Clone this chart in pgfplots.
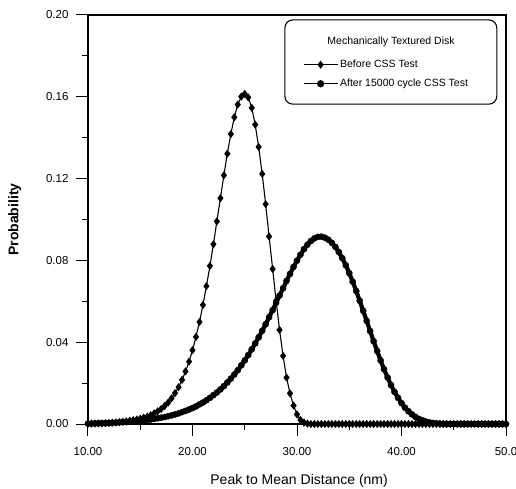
\documentclass[border=0pt]{standalone}
\usepackage{fontspec}
\setmainfont{Liberation Sans}
\usepackage{pgfplots}
\pgfplotsset{compat=1.18}
\begin{document}
\begin{tikzpicture}
\begin{axis}[name=ax, scale only axis, width=418pt, height=409pt,
  xmin=10, xmax=50, ymin=0, ymax=0.2,
  xtick={10,20,30,40,50}, xticklabels={10.00,20.00,30.00,40.00,50.0},
  ytick={0,0.04,0.08,0.12,0.16,0.20}, yticklabels={0.00,0.04,0.08,0.12,0.16,0.20},
  minor xtick={15,25,35,45}, minor ytick={0.02,0.06,0.10,0.14,0.18},
  tick align=outside, xtick pos=bottom, ytick pos=left,
  major tick length=12pt, minor tick length=6pt,
  tick style={line width=1pt, black}, axis line style={line width=1.1pt},
  ticklabel style={font=\fontsize{11.5}{13}\selectfont},
  xticklabel style={yshift=-8pt},
  yticklabel style={xshift=-4pt},
  /pgf/number format/assume math mode=true,
  xlabel={Peak to Mean Distance (nm)}, ylabel={\textbf{Probability}},
  xlabel style={at={(rel axis cs:0.505,-0.14)}, anchor=center, font=\fontsize{14}{16}\selectfont},
  ylabel style={at={(rel axis cs:-0.175,0.5)}, anchor=center, font=\fontsize{14}{16}\selectfont},
  clip=false,
  legend style={at={(rel axis cs:0.514,0.895)}, anchor=north west, draw=none, fill=none,
    font=\fontsize{10.5}{12}\selectfont, row sep=6pt, inner sep=0pt},
  legend cell align=left,
  /tikz/every even column/.append style={column sep=8pt},
  legend image code/.code={\draw[mark repeat=2,mark phase=2,#1] plot coordinates {(0pt,0pt) (17pt,0pt) (34pt,0pt)};},
]
\addplot[black, line width=1.1pt, mark=diamond*, mark size=3.2pt, mark options={solid}] coordinates {
(10.00,0.0001) (10.33,0.0002) (10.67,0.0002) (11.00,0.0003) (11.33,0.0003) (11.67,0.0004) (12.00,0.0005) (12.33,0.0006) (12.67,0.0007) (13.00,0.0009) (13.33,0.0011) (13.67,0.0013) (14.00,0.0016) (14.33,0.0019) (14.67,0.0022) (15.00,0.0026) (15.33,0.0031) (15.67,0.0036) (16.00,0.0043) (16.33,0.0052) (16.67,0.0062) (17.00,0.0073) (17.33,0.0088) (17.67,0.0105) (18.00,0.0126) (18.33,0.0151) (18.67,0.0180) (19.00,0.0216) (19.33,0.0257) (19.67,0.0305) (20.00,0.0361) (20.33,0.0426) (20.67,0.0499) (21.00,0.0582) (21.33,0.0674) (21.67,0.0773) (22.00,0.0879) (22.33,0.0991) (22.67,0.1104) (23.00,0.1216) (23.33,0.1322) (23.67,0.1418) (24.00,0.1500) (24.33,0.1562) (24.67,0.1601) (25.00,0.1614) (25.33,0.1597) (25.67,0.1546) (26.00,0.1464) (26.33,0.1355) (26.67,0.1223) (27.00,0.1075) (27.33,0.0917) (27.67,0.0758) (28.00,0.0603) (28.33,0.0460) (28.67,0.0333) (29.00,0.0227) (29.33,0.0150) (29.67,0.0090) (30.00,0.0047) (30.33,0.0020) (30.67,0.0007) (31.00,0.0002)
(31.33,0) (31.67,0) (32.00,0) (32.33,0) (32.67,0) (33.00,0) (33.33,0) (33.67,0) (34.00,0) (34.33,0) (34.67,0) (35.00,0) (35.33,0) (35.67,0) (36.00,0) (36.33,0) (36.67,0) (37.00,0) (37.33,0) (37.67,0) (38.00,0) (38.33,0) (38.67,0) (39.00,0) (39.33,0) (39.67,0) (40.00,0) (40.33,0) (40.67,0) (41.00,0) (41.33,0) (41.67,0) (42.00,0) (42.33,0) (42.67,0) (43.00,0) (43.33,0) (43.67,0) (44.00,0) (44.33,0) (44.67,0) (45.00,0) (45.33,0) (45.67,0) (46.00,0) (46.33,0) (46.67,0) (47.00,0) (47.33,0) (47.67,0) (48.00,0) (48.33,0) (48.67,0) (49.00,0) (49.33,0) (49.67,0) (50.00,0)
};
\addlegendentry{Before CSS Test}
\addplot[black, line width=4.2pt, mark=*, mark size=3.1pt, mark options={solid, line width=0.4pt},
  legend image post style={line width=1.1pt, mark size=3.4pt}] coordinates {
(10.00,0.0002) (10.33,0.0002) (10.67,0.0003) (11.00,0.0003) (11.33,0.0004) (11.67,0.0004) (12.00,0.0005) (12.33,0.0006) (12.67,0.0007) (13.00,0.0008) (13.33,0.0009) (13.67,0.0010) (14.00,0.0011) (14.33,0.0013) (14.67,0.0014) (15.00,0.0016) (15.33,0.0018) (15.67,0.0020) (16.00,0.0022) (16.33,0.0025) (16.67,0.0028) (17.00,0.0031) (17.33,0.0034) (17.67,0.0038) (18.00,0.0042) (18.33,0.0047) (18.67,0.0052) (19.00,0.0058) (19.33,0.0064) (19.67,0.0071) (20.00,0.0078) (20.33,0.0086) (20.67,0.0096) (21.00,0.0105) (21.33,0.0116) (21.67,0.0128) (22.00,0.0141) (22.33,0.0154) (22.67,0.0169) (23.00,0.0185) (23.33,0.0203) (23.67,0.0222) (24.00,0.0242) (24.33,0.0263) (24.67,0.0287) (25.00,0.0311) (25.33,0.0337) (25.67,0.0365) (26.00,0.0394) (26.33,0.0424) (26.67,0.0456) (27.00,0.0488) (27.33,0.0522) (27.67,0.0557) (28.00,0.0593) (28.33,0.0628) (28.67,0.0664) (29.00,0.0700) (29.33,0.0734) (29.67,0.0768) (30.00,0.0799) (30.33,0.0828) (30.67,0.0855) (31.00,0.0877) (31.33,0.0895) (31.67,0.0908) (32.00,0.0915) (32.33,0.0916) (32.67,0.0911) (33.00,0.0901) (33.33,0.0886) (33.67,0.0866) (34.00,0.0841) (34.33,0.0811) (34.67,0.0776) (35.00,0.0738) (35.33,0.0696) (35.67,0.0650) (36.00,0.0603) (36.33,0.0554) (36.67,0.0504) (37.00,0.0454) (37.33,0.0405) (37.67,0.0357) (38.00,0.0311) (38.33,0.0268) (38.67,0.0227) (39.00,0.0190) (39.33,0.0157) (39.67,0.0128) (40.00,0.0102) (40.33,0.0080) (40.67,0.0062) (41.00,0.0047) (41.33,0.0035) (41.67,0.0025) (42.00,0.0018) (42.33,0.0012) (42.67,0.0008) (43.00,0.0005) (43.33,0.0003) (43.67,0.0002) (44.00,0.0001)
(44.33,0) (44.67,0) (45.00,0) (45.33,0) (45.67,0) (46.00,0) (46.33,0) (46.67,0) (47.00,0) (47.33,0) (47.67,0) (48.00,0) (48.33,0) (48.67,0) (49.00,0) (49.33,0) (49.67,0) (50.00,0)
};
\addlegendentry{After 15000 cycle CSS Test}
\draw[line width=1.1pt, rounded corners=8pt] (rel axis cs:0.471,0.782) rectangle (rel axis cs:0.978,0.988);
\node[font=\fontsize{10.5}{12}\selectfont] at (rel axis cs:0.725,0.934) {Mechanically Textured Disk};
\end{axis}
\pgfresetboundingbox
\path ([shift={(-88pt,-64pt)}]ax.south west) rectangle ([shift={(10pt,15pt)}]ax.north east);
\end{tikzpicture}
\end{document}
